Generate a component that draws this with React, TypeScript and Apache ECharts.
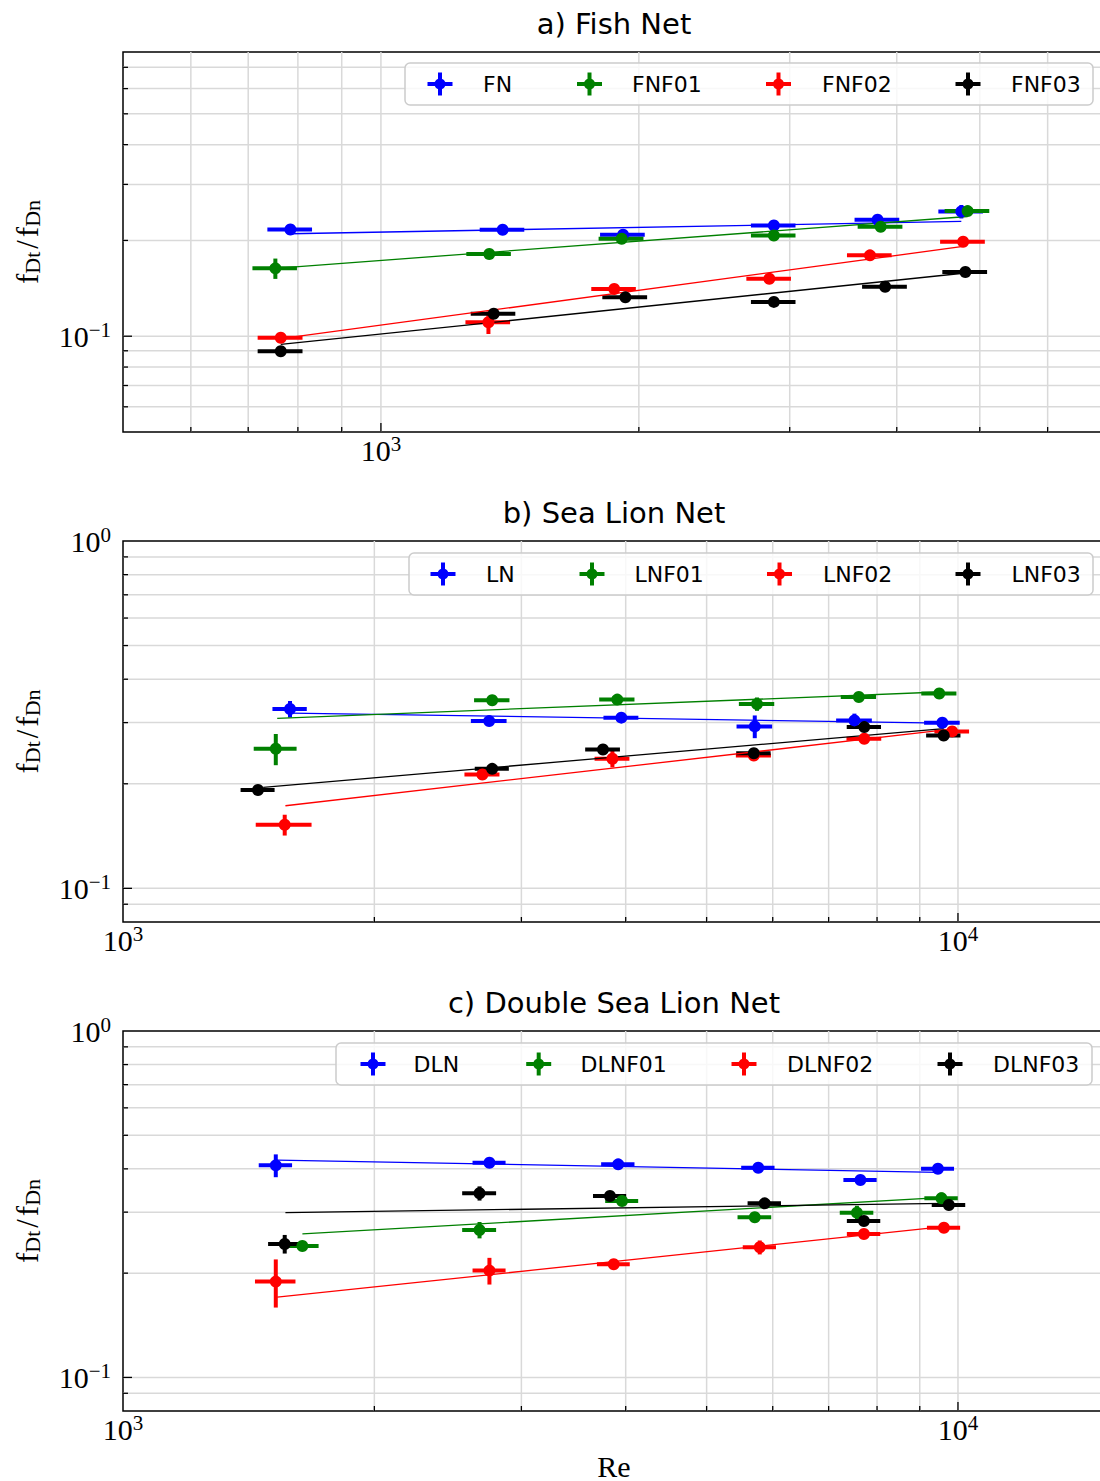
import React, { useEffect, useRef } from 'react';
import * as echarts from 'echarts';

// ---------------- DATA ----------------
// Panel a) Fish Net
const A_NAMES = ['FN', 'FNF01', 'FNF02', 'FNF03'];
const A_FN_x = [784, 1387, 1917, 2875, 3799, 4758];
const A_FN_y = [0.2165, 0.216, 0.2084, 0.2228, 0.2322, 0.2465];
const A_FN_xerr = [47, 83, 115, 172, 228, 285];
const A_FN_yerr = [0.004, 0.003, 0.004, 0.003, 0.004, 0.012];
const A_FN_fitX = [784, 4758];
const A_FN_fitY = [0.2099, 0.2294];

const A_FNF01_x = [753, 1338, 1910, 2875, 3831, 4839];
const A_FNF01_y = [0.1634, 0.1813, 0.2025, 0.2073, 0.2208, 0.2473];
const A_FNF01_xerr = [45, 80, 115, 172, 230, 290];
const A_FNF01_yerr = [0.012, 0.003, 0.004, 0.004, 0.003, 0.004];
const A_FNF01_fitX = [753, 4839];
const A_FNF01_fitY = [0.1634, 0.2378];

const A_FNF02_x = [764, 1335, 1872, 2840, 3722, 4781];
const A_FNF02_y = [0.0989, 0.1106, 0.1408, 0.1516, 0.1795, 0.1981];
const A_FNF02_xerr = [46, 80, 112, 170, 223, 287];
const A_FNF02_yerr = [0.003, 0.009, 0.003, 0.003, 0.003, 0.003];
const A_FNF02_fitX = [764, 4781];
const A_FNF02_fitY = [0.0982, 0.1915];

const A_FNF03_x = [764, 1354, 1929, 2875, 3877, 4810];
const A_FNF03_y = [0.0897, 0.1176, 0.1325, 0.1282, 0.1431, 0.1592];
const A_FNF03_xerr = [46, 81, 116, 172, 233, 289];
const A_FNF03_yerr = [0.002, 0.002, 0.003, 0.002, 0.003, 0.003];
const A_FNF03_fitX = [764, 4810];
const A_FNF03_fitY = [0.0942, 0.158];

// Panel b) Sea Lion Net
const B_NAMES = ['LN', 'LNF01', 'LNF02', 'LNF03'];
const B_LN_x = [1585, 2745, 3952, 5710, 7516, 9578];
const B_LN_y = [0.3282, 0.303, 0.31, 0.2926, 0.3044, 0.2998];
const B_LN_xerr = [75, 135, 190, 280, 370, 470];
const B_LN_yerr = [0.018, 0.006, 0.006, 0.022, 0.014, 0.005];
const B_LN_fitX = [1585, 9578];
const B_LN_fitY = [0.3196, 0.299];

const B_LNF01_x = [1524, 2768, 3908, 5745, 7608, 9497];
const B_LNF01_y = [0.2522, 0.3478, 0.3494, 0.3394, 0.3555, 0.3637];
const B_LNF01_xerr = [90, 135, 190, 280, 370, 460];
const B_LNF01_yerr = [0.026, 0.006, 0.006, 0.015, 0.008, 0.008];
const B_LNF01_fitX = [1530, 9497];
const B_LNF01_fitY = [0.3085, 0.3675];

const B_LNF02_x = [1562, 2694, 3856, 5695, 7723, 9841];
const B_LNF02_y = [0.1524, 0.2126, 0.236, 0.2412, 0.2696, 0.283];
const B_LNF02_xerr = [120, 130, 185, 275, 370, 470];
const B_LNF02_yerr = [0.0105, 0.005, 0.013, 0.005, 0.006, 0.006];
const B_LNF02_fitX = [1565, 9700];
const B_LNF02_fitY = [0.1729, 0.2862];

const B_LNF03_x = [1451, 2768, 3757, 5695, 7723, 9614];
const B_LNF03_y = [0.192, 0.2208, 0.251, 0.2449, 0.2912, 0.2755];
const B_LNF03_xerr = [68, 130, 180, 270, 365, 455];
const B_LNF03_yerr = [0.004, 0.006, 0.005, 0.005, 0.007, 0.007];
const B_LNF03_fitX = [1472, 9614];
const B_LNF03_fitY = [0.1953, 0.2881];

// Panel c) Double Sea Lion Net
const C_NAMES = ['DLN', 'DLNF01', 'DLNF02', 'DLNF03'];
const C_DLN_x = [1524, 2747, 3918, 5765, 7641, 9462];
const C_DLN_y = [0.4094, 0.4165, 0.4121, 0.4029, 0.3713, 0.4002];
const C_DLN_xerr = [70, 125, 180, 265, 350, 430];
const C_DLN_yerr = [0.031, 0.006, 0.006, 0.005, 0.006, 0.005];
const C_DLN_fitX = [1530, 9462];
const C_DLN_fitY = [0.424, 0.3908];

const C_DLNF01_x = [1640, 2673, 3960, 5710, 7568, 9555];
const C_DLNF01_y = [0.2396, 0.2665, 0.323, 0.29, 0.299, 0.3289];
const C_DLNF01_xerr = [75, 125, 180, 265, 350, 440];
const C_DLNF01_yerr = [0.006, 0.0145, 0.006, 0.006, 0.014, 0.013];
const C_DLNF01_fitX = [1640, 9620];
const C_DLNF01_fitY = [0.2595, 0.331];

const C_DLNF02_x = [1524, 2747, 3870, 5789, 7716, 9620];
const C_DLNF02_y = [0.1891, 0.2034, 0.2122, 0.2375, 0.2595, 0.2705];
const C_DLNF02_xerr = [85, 125, 175, 265, 355, 440];
const C_DLNF02_yerr = [0.03, 0.018, 0.004, 0.011, 0.005, 0.005];
const C_DLNF02_fitX = [1530, 9620];
const C_DLNF02_fitY = [0.1705, 0.2724];

const C_DLNF03_x = [1562, 2673, 3830, 5868, 7716, 9752];
const C_DLNF03_y = [0.2428, 0.34, 0.334, 0.3181, 0.2828, 0.3146];
const C_DLNF03_xerr = [70, 125, 175, 270, 355, 450];
const C_DLNF03_yerr = [0.015, 0.016, 0.005, 0.005, 0.006, 0.005];
const C_DLNF03_fitX = [1565, 9620];
const C_DLNF03_fitY = [0.299, 0.3181];

// Axis tick values (gridlines)
const A_X_TICKS = [600, 700, 800, 900, 1000, 2000, 3000, 4000, 5000, 6000];
const A_Y_TICKS = [0.06, 0.07, 0.08, 0.09, 0.1, 0.2, 0.3, 0.4, 0.5, 0.6, 0.7];
const BC_X_TICKS = [2000, 3000, 4000, 5000, 6000, 7000, 8000, 9000, 10000];
const BC_Y_TICKS = [0.09, 0.1, 0.2, 0.3, 0.4, 0.5, 0.6, 0.7, 0.8, 0.9];

const TITLES = ['a) Fish Net', 'b) Sea Lion Net', 'c) Double Sea Lion Net'];

// ---------------- STYLE / LAYOUT ----------------
const COLORS = ['#0000ff', '#008000', '#ff0000', '#000000'];
const GRID_COLOR = '#d9d9d9';
const SERIF = '"Liberation Serif", "DejaVu Serif", serif';
const SANS = '"DejaVu Sans", sans-serif';
const GRID_LEFT = 123;
const GRID_WIDTH = 982;

const group = (x, y, xe, ye, fx, fy) => ({ x, y, xe, ye, fx, fy });

const PANELS = [
  {
    title: TITLES[0], names: A_NAMES, top: 52, height: 380,
    xMin: 500, xMax: 7000, yMin: 0.05, yMax: 0.782,
    xTicks: A_X_TICKS, yTicks: A_Y_TICKS,
    groups: [
      group(A_FN_x, A_FN_y, A_FN_xerr, A_FN_yerr, A_FN_fitX, A_FN_fitY),
      group(A_FNF01_x, A_FNF01_y, A_FNF01_xerr, A_FNF01_yerr, A_FNF01_fitX, A_FNF01_fitY),
      group(A_FNF02_x, A_FNF02_y, A_FNF02_xerr, A_FNF02_yerr, A_FNF02_fitX, A_FNF02_fitY),
      group(A_FNF03_x, A_FNF03_y, A_FNF03_xerr, A_FNF03_yerr, A_FNF03_fitX, A_FNF03_fitY),
    ],
    legend: { box: [405, 63, 688, 42], icons: [440, 589.5, 778.5, 968], texts: [483, 632, 822, 1011] },
  },
  {
    title: TITLES[1], names: B_NAMES, top: 541, height: 381,
    xMin: 1000, xMax: 15000, yMin: 0.08, yMax: 1.0,
    xTicks: BC_X_TICKS, yTicks: BC_Y_TICKS,
    groups: [
      group(B_LN_x, B_LN_y, B_LN_xerr, B_LN_yerr, B_LN_fitX, B_LN_fitY),
      group(B_LNF01_x, B_LNF01_y, B_LNF01_xerr, B_LNF01_yerr, B_LNF01_fitX, B_LNF01_fitY),
      group(B_LNF02_x, B_LNF02_y, B_LNF02_xerr, B_LNF02_yerr, B_LNF02_fitX, B_LNF02_fitY),
      group(B_LNF03_x, B_LNF03_y, B_LNF03_xerr, B_LNF03_yerr, B_LNF03_fitX, B_LNF03_fitY),
    ],
    legend: { box: [409, 553, 684, 42], icons: [443, 592, 779.5, 968], texts: [486, 634.5, 823, 1011.5] },
  },
  {
    title: TITLES[2], names: C_NAMES, top: 1031, height: 380,
    xMin: 1000, xMax: 15000, yMin: 0.08, yMax: 1.0,
    xTicks: BC_X_TICKS, yTicks: BC_Y_TICKS,
    groups: [
      group(C_DLN_x, C_DLN_y, C_DLN_xerr, C_DLN_yerr, C_DLN_fitX, C_DLN_fitY),
      group(C_DLNF01_x, C_DLNF01_y, C_DLNF01_xerr, C_DLNF01_yerr, C_DLNF01_fitX, C_DLNF01_fitY),
      group(C_DLNF02_x, C_DLNF02_y, C_DLNF02_xerr, C_DLNF02_yerr, C_DLNF02_fitX, C_DLNF02_fitY),
      group(C_DLNF03_x, C_DLNF03_y, C_DLNF03_xerr, C_DLNF03_yerr, C_DLNF03_fitX, C_DLNF03_fitY),
    ],
    legend: { box: [336, 1043, 756, 42], icons: [373, 538.7, 744, 950], texts: [413.5, 580.5, 787, 993] },
  },
];

const isPow10 = (v: number) => {
  const e = Math.log10(v);
  return Math.abs(e - Math.round(e)) < 1e-6;
};
const powLabel = (v: number) => {
  if (!isPow10(v)) return '';
  const e = Math.round(Math.log10(v));
  const s = e < 0 ? '\u2212' + Math.abs(e) : String(e);
  return '{b|10}{s|' + s + '}';
};
const labelRich = {
  b: { fontFamily: SERIF, fontSize: 30, lineHeight: 32, color: '#000' },
  s: { fontFamily: SERIF, fontSize: 21, lineHeight: 21, padding: [0, 0, 12, 0], color: '#000' },
};

function buildOption() {
  const grid: any[] = [];
  const xAxis: any[] = [];
  const yAxis: any[] = [];
  const series: any[] = [];
  const graphic: any[] = [];

  PANELS.forEach((p, gi) => {
    grid.push({
      left: GRID_LEFT, top: p.top, width: GRID_WIDTH, height: p.height,
      show: true, borderColor: '#000', borderWidth: 1.5, backgroundColor: 'transparent',
    });
    xAxis.push({
      type: 'log', logBase: 10, gridIndex: gi, min: p.xMin, max: p.xMax,
      axisLine: { show: false }, axisTick: { show: false }, splitLine: { show: false },
      axisLabel: { formatter: powLabel, rich: labelRich, margin: 2 },
    });
    yAxis.push({
      type: 'log', logBase: 10, gridIndex: gi, min: p.yMin, max: p.yMax,
      axisLine: { show: false }, axisTick: { show: false }, splitLine: { show: false },
      axisLabel: { formatter: powLabel, rich: labelRich, margin: 12 },
    });

    // vertical gridlines + bottom ticks
    series.push({
      type: 'custom', xAxisIndex: gi, yAxisIndex: gi, z: 1, silent: true, clip: false,
      data: p.xTicks.map((v) => [v, p.yMin]),
      encode: { x: 0, y: 1 },
      renderItem: (params: any, api: any) => {
        const cs = params.coordSys;
        const v = api.value(0);
        const px = api.coord([v, api.value(1)])[0];
        const len = isPow10(v) ? 9 : 5;
        const bottom = cs.y + cs.height;
        return {
          type: 'group',
          children: [
            { type: 'line', shape: { x1: px, y1: cs.y, x2: px, y2: bottom }, style: { stroke: GRID_COLOR, lineWidth: 1.5 } },
            { type: 'line', shape: { x1: px, y1: bottom, x2: px, y2: bottom - len }, style: { stroke: '#000', lineWidth: 1.3 } },
          ],
        };
      },
    });
    // horizontal gridlines + left ticks
    series.push({
      type: 'custom', xAxisIndex: gi, yAxisIndex: gi, z: 1, silent: true, clip: false,
      data: p.yTicks.map((v) => [p.xMin, v]),
      encode: { x: 0, y: 1 },
      renderItem: (params: any, api: any) => {
        const cs = params.coordSys;
        const v = api.value(1);
        const py = api.coord([api.value(0), v])[1];
        const len = isPow10(v) ? 9 : 5;
        return {
          type: 'group',
          children: [
            { type: 'line', shape: { x1: cs.x, y1: py, x2: cs.x + cs.width, y2: py }, style: { stroke: GRID_COLOR, lineWidth: 1.5 } },
            { type: 'line', shape: { x1: cs.x, y1: py, x2: cs.x + len, y2: py }, style: { stroke: '#000', lineWidth: 1.3 } },
          ],
        };
      },
    });

    p.groups.forEach((g, k) => {
      const color = COLORS[k];
      series.push({
        type: 'custom', name: p.names[k], xAxisIndex: gi, yAxisIndex: gi, z: 2, silent: true,
        data: g.x.map((x, i) => [x, g.y[i], g.xe[i], g.ye[i]]),
        encode: { x: 0, y: 1 },
        renderItem: (params: any, api: any) => {
          const x = api.value(0), y = api.value(1), xe = api.value(2), ye = api.value(3);
          const l = api.coord([x - xe, y]);
          const r = api.coord([x + xe, y]);
          const b = api.coord([x, y - ye]);
          const t = api.coord([x, y + ye]);
          return {
            type: 'group',
            children: [
              { type: 'line', shape: { x1: l[0], y1: l[1], x2: r[0], y2: r[1] }, style: { stroke: color, lineWidth: 4 } },
              { type: 'line', shape: { x1: b[0], y1: b[1], x2: t[0], y2: t[1] }, style: { stroke: color, lineWidth: 4 } },
            ],
          };
        },
      });
      series.push({
        type: 'scatter', name: p.names[k], xAxisIndex: gi, yAxisIndex: gi, z: 2, silent: true,
        data: g.x.map((x, i) => [x, g.y[i]]),
        symbol: 'circle', symbolSize: 12, itemStyle: { color, opacity: 1 },
      });
      series.push({
        type: 'line', name: p.names[k] + ' fit', xAxisIndex: gi, yAxisIndex: gi, z: 2, silent: true,
        data: g.fx.map((x, i) => [x, g.fy[i]]),
        symbol: 'none', showSymbol: false, lineStyle: { color, width: 1.3 },
      });
    });

    // title
    graphic.push({
      type: 'text', x: GRID_LEFT + GRID_WIDTH / 2, y: p.top - 28.5, z: 60,
      style: { text: p.title, fontFamily: SANS, fontSize: 29, fill: '#000', align: 'center', verticalAlign: 'middle' },
    });
    // y axis name
    graphic.push({
      type: 'text', x: 27, y: p.top + p.height / 2, rotation: Math.PI / 2, z: 60,
      style: {
        text: '{m|f}{s|Dt}{k|/}{m|f}{s|Dn}',
        align: 'center', verticalAlign: 'middle', fill: '#000',
        rich: {
          m: { fontFamily: SERIF, fontSize: 31, lineHeight: 34, color: '#000' },
          s: { fontFamily: SERIF, fontSize: 22, lineHeight: 22, padding: [10, 0, 0, 0], color: '#000' },
          k: { fontFamily: SERIF, fontSize: 31, lineHeight: 34, padding: [0, 3, 0, 3], color: '#000' },
        },
      },
    });
    // legend
    const L = p.legend;
    const cy = L.box[1] + L.box[3] / 2;
    graphic.push({
      type: 'rect', z: 50,
      shape: { x: L.box[0], y: L.box[1], width: L.box[2], height: L.box[3], r: 5 },
      style: { fill: 'rgba(255,255,255,0.8)', stroke: '#cccccc', lineWidth: 1.5 },
    });
    p.names.forEach((n, i) => {
      const ix = L.icons[i];
      const c = COLORS[i];
      graphic.push({ type: 'line', z: 51, shape: { x1: ix - 12.5, y1: cy, x2: ix + 12.5, y2: cy }, style: { stroke: c, lineWidth: 4 } });
      graphic.push({ type: 'line', z: 51, shape: { x1: ix, y1: cy - 11.5, x2: ix, y2: cy + 11.5 }, style: { stroke: c, lineWidth: 4 } });
      graphic.push({ type: 'circle', z: 51, shape: { cx: ix, cy, r: 5.5 }, style: { fill: c } });
      graphic.push({
        type: 'text', z: 51, x: L.texts[i], y: cy,
        style: { text: n, fontFamily: SANS, fontSize: 22, fill: '#000', align: 'left', verticalAlign: 'middle' },
      });
    });
  });

  // x axis name
  graphic.push({
    type: 'text', x: GRID_LEFT + GRID_WIDTH / 2, y: 1466, z: 60,
    style: { text: 'Re', fontFamily: SERIF, fontSize: 30, fill: '#000', align: 'center', verticalAlign: 'middle' },
  });

  return {
    animation: false,
    backgroundColor: '#ffffff',
    textStyle: { fontFamily: SERIF },
    grid, xAxis, yAxis, series, graphic,
  };
}

export default function App() {
  const ref = useRef<HTMLDivElement>(null);
  useEffect(() => {
    if (!ref.current) return;
    const chart = echarts.init(ref.current, null, { renderer: 'svg' });
    chart.setOption(buildOption() as any);
    return () => chart.dispose();
  }, []);
  return (
    <div style={{ position: 'absolute', left: 0, top: 0, width: 1100, height: 1481, overflow: 'hidden', background: '#fff' }}>
      <div ref={ref} style={{ width: 1120, height: 1481 }} />
    </div>
  );
}
